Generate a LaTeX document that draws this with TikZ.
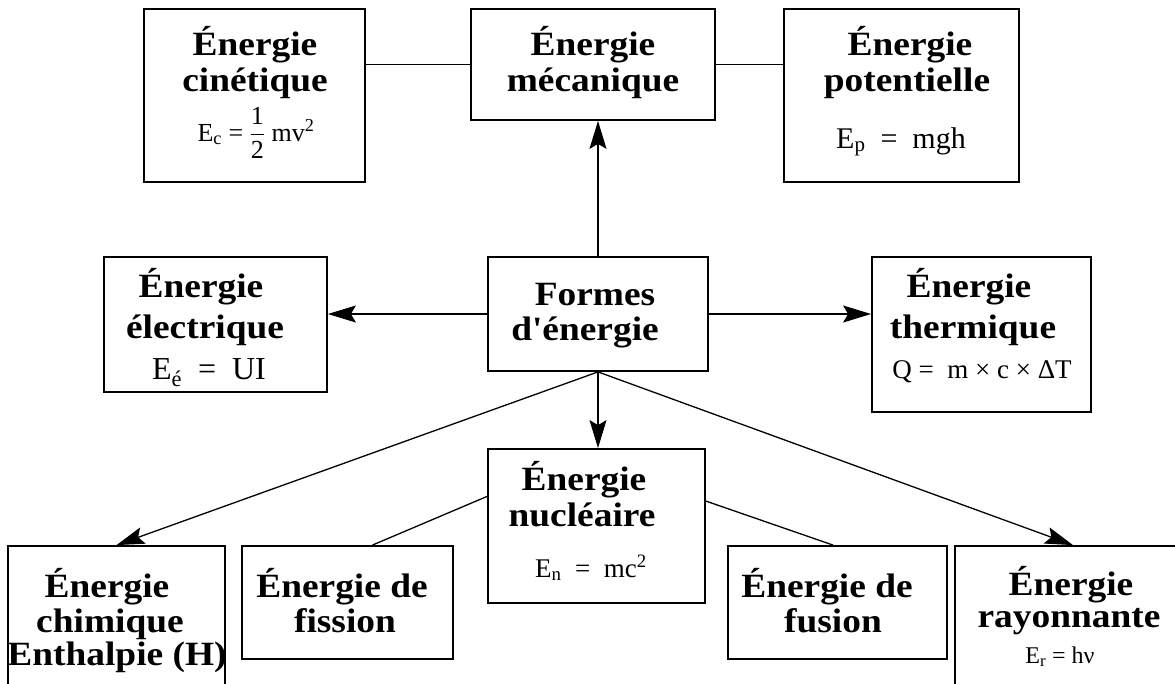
\documentclass[tikz,border=0pt]{standalone}
\usepackage{amsmath}
\usepackage{fontspec}
\setmainfont{Liberation Serif}
\newfontfamily\ttlfont[FakeStretch=1.1]{Liberation Serif}
\usetikzlibrary{arrows.meta,calc,fit}
\begin{document}
\begin{tikzpicture}[x=1pt,y=-1pt,
  box/.style={draw, line width=1.8pt, inner sep=0pt},
  ttl/.style={font=\ttlfont\bfseries\fontsize{34}{36}\selectfont, anchor=base, inner sep=0pt},
  frm/.style={font=\fontsize{#1}{#1}\selectfont, anchor=base, inner sep=0pt},
  con/.style={line width=1.3pt},
  arr/.style={con, -{Stealth[length=28pt,width=17pt,inset=5pt]}}]
\useasboundingbox (0,0) rectangle (1175,683);
\clip (0,0) rectangle (1175,683);
% boxes
\node[box, fit={(144,9) (365,182)}] (cin) {};
\node[box, fit={(471,9) (715,120)}] (mec) {};
\node[box, fit={(784,9) (1019,182)}] (pot) {};
\node[box, fit={(104,257) (327,392)}] (ele) {};
\node[box, fit={(872,257) (1091,412)}] (the) {};
\node[box, fit={(488,257) (708,371)}] (for) {};
\node[box, fit={(488,449) (705,603)}] (nuc) {};
\node[box, fit={(8,546) (225,700)}] (chi) {};
\node[box, fit={(242,546) (453,659)}] (fis) {};
\node[box, fit={(728,546) (947,659)}] (fus) {};
\node[box, fit={(955,546) (1191,700)}] (ray) {};
% connectors
\draw[con] (mec.west) -- (mec.west -| cin.east);
\draw[con] (mec.east) -- (mec.east -| pot.west);
\draw[arr] (for.north) -- (for.north |- mec.south);
\draw[arr] (for.west) -- (for.west -| ele.east);
\draw[arr] (for.east) -- (for.east -| the.west);
\draw[arr] (for.south) -- (for.south |- nuc.north);
\draw[arr] (for.south) -- (chi.north);
\draw[arr] (for.south) -- (ray.north);
\coordinate (nucL) at ($(nuc.north west)!0.31!(nuc.south west)$);
\coordinate (nucR) at ($(nuc.north east)!0.34!(nuc.south east)$);
\coordinate (fisT) at ($(fis.north west)!0.617!(fis.north east)$);
\coordinate (fusT) at ($(fus.north west)!0.48!(fus.north east)$);
\draw[con] (nucL) -- (fisT);
\draw[con] (nucR) -- (fusT);
% texts
\node[ttl] (cinA) at (255,55) {Énergie};
\node[ttl] (cinB) at (255,91) {cinétique};
\node[frm=26] (cinF) at (256,141) {E\textsubscript{c} = $\dfrac{\text{1}}{\text{2}}$ mv\textsuperscript{2}};
\node[ttl] (mecA) at (593,55) {Énergie};
\node[ttl] (mecB) at (593,91) {mécanique};
\node[ttl] (potA) at (910,55) {Énergie};
\node[ttl] (potB) at (907,91) {potentielle};
\node[frm=30] (potF) at (901,148) {E\textsubscript{p}\ \ =\ \ mgh};
\node[ttl] (eleA) at (201,297) {Énergie};
\node[ttl] (eleB) at (205,338) {électrique};
\node[frm=32] (eleF) at (209,379) {E\textsubscript{é}\ \ =\ \ UI};
\node[ttl] (theA) at (969,297) {Énergie};
\node[ttl] (theB) at (973,338) {thermique};
\node[frm=27] (theF) at (982,378) {Q =\ \ m × c × ΔT};
\node[ttl] (forA) at (595,305) {Formes};
\node[ttl] (forB) at (585,340) {d'énergie};
\node[ttl] (nucA) at (584,490) {Énergie};
\node[ttl] (nucB) at (582,526) {nucléaire};
\node[frm=27] (nucF) at (591,577) {E\textsubscript{n}\ \ =\ \ mc\textsuperscript{2}};
\node[ttl] (chiA) at (107,597) {Énergie};
\node[ttl] (chiB) at (110,632) {chimique};
\node[ttl] (chiC) at (117,665) {Enthalpie (H)};
\node[ttl] (fisA) at (342,597) {Énergie de};
\node[ttl] (fisB) at (345,632) {fission};
\node[ttl] (fusA) at (827,597) {Énergie de};
\node[ttl] (fusB) at (833,632) {fusion};
\node[ttl] (rayA) at (1071,595) {Énergie};
\node[ttl] (rayB) at (1069,627) {rayonnante};
\node[frm=24] (rayF) at (1060,663) {E\textsubscript{r} = hν};
\end{tikzpicture}
\end{document}
